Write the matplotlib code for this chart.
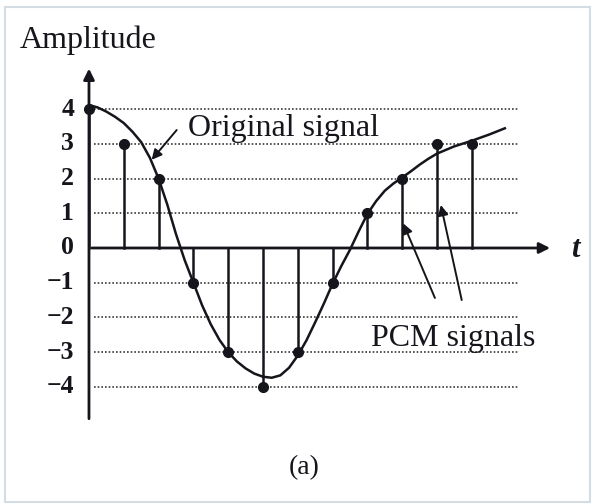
import numpy as np
import matplotlib.pyplot as plt
from matplotlib.patches import Rectangle

# PCM samples (one per time step)
sample_t = list(range(12))
sample_v = [4, 3, 2, -1, -3, -4, -3, -1, 1, 2, 3, 3]

# original analog signal
curve_t = [0.0, 0.25, 0.5, 0.75, 1.0, 1.25, 1.5, 1.75, 2.0, 2.25, 2.5, 2.75,
           3.0, 3.25, 3.5, 3.75, 4.0, 4.25, 4.5, 4.75, 5.0, 5.25, 5.5, 5.75,
           6.0, 6.25, 6.5, 6.75, 7.0, 7.25, 7.5, 7.75, 8.0, 8.25, 8.5, 8.75,
           9.0, 9.25, 9.5, 9.75, 10.0, 10.5, 11.0, 11.5, 11.95]
curve_v = [4.12, 4.05, 3.93, 3.78, 3.6, 3.35, 3.05, 2.6, 2.0, 1.25, 0.4, -0.35,
           -1.0, -1.65, -2.2, -2.65, -3.0, -3.27, -3.47, -3.62, -3.71, -3.74,
           -3.67, -3.45, -3.1, -2.66, -2.14, -1.6, -1.03, -0.52, -0.05, 0.48,
           0.98, 1.35, 1.65, 1.86, 2.03, 2.21, 2.4, 2.57, 2.72, 2.93, 3.09,
           3.27, 3.45]

levels = [4, 3, 2, 1, -1, -2, -3, -4]
tick_labels = ["4", "3", "2", "1", "0", "\u22121", "\u22122", "\u22123", "\u22124"]
tick_values = [4, 3, 2, 1, 0, -1, -2, -3, -4]

serif = "Liberation Serif"
ink = "#15151c"

fig = plt.figure(figsize=(5.95, 5.04), dpi=100)
ax = fig.add_axes([0, 0, 1, 1])
ax.set_xlim(-2.557, 14.54)
ax.set_ylim(-7.378, 7.147)
ax.axis("off")

# light frame around the picture
fig.patches.append(Rectangle((0.009, 0.004), 0.982, 0.982, transform=fig.transFigure,
                             fill=False, edgecolor="#d5dde4", lw=1.5))

# dotted quantisation levels
for lv in levels:
    ax.plot([0.15, 12.33], [lv, lv], ls=(0, (1, 1.2)), lw=1.2, color="#3a3a3a")

# axes with arrows
ax.annotate("", xy=(0, 5.25), xytext=(0, -5.0),
            arrowprops=dict(arrowstyle="-|>", lw=2.0, color=ink, mutation_scale=16))
ax.annotate("", xy=(13.33, 0), xytext=(0, 0),
            arrowprops=dict(arrowstyle="-|>", lw=2.0, color=ink, mutation_scale=16))

# samples
for t, v in zip(sample_t, sample_v):
    ax.plot([t, t], [0, v], color=ink, lw=1.8)
ax.plot(sample_t, sample_v, "o", color=ink, ms=7)

# original signal
ax.plot(curve_t, curve_v, color=ink, lw=1.8, solid_joinstyle="round")

# tick labels
for lab, v in zip(tick_labels, tick_values):
    ax.text(-0.42, v, lab, ha="right", va="center", fontsize=18.5, family=serif,
            color=ink, weight="bold")

ax.text(-1.98, 6.0, "Amplitude", ha="left", va="center", fontsize=23, family=serif, color=ink)
ax.text(13.97, -0.05, "t", ha="center", va="center", fontsize=22, family=serif,
        style="italic", color=ink, weight="bold")
ax.text(2.85, 3.45, "Original signal", ha="left", va="center", fontsize=23,
        family=serif, color=ink)
ax.text(8.1, -2.6, "PCM signals", ha="left", va="center", fontsize=23,
        family=serif, color=ink)
ax.text(6.18, -6.34, "(a)", ha="center", va="center", fontsize=20, family=serif, color=ink)

# pointer arrows
arrow = dict(arrowstyle="-|>", lw=1.4, color=ink, mutation_scale=15, shrinkA=0, shrinkB=0)
ax.annotate("", xy=(1.80, 2.54), xytext=(2.52, 3.40), arrowprops=arrow)
ax.annotate("", xy=(9.03, 0.71), xytext=(9.94, -1.44), arrowprops=arrow)
ax.annotate("", xy=(10.11, 1.24), xytext=(10.71, -1.50), arrowprops=arrow)

fig.savefig("out.png", dpi=100)
